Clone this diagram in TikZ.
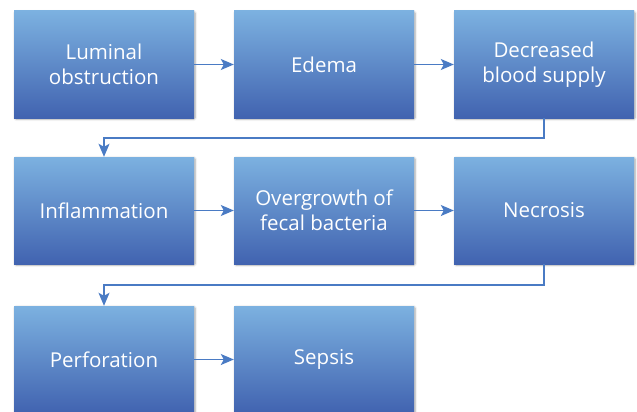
\documentclass[tikz,border=0pt]{standalone}
\usepackage{fontspec}
\setmainfont{Open Sans}
\usetikzlibrary{arrows.meta,shadows.blur,positioning}
\definecolor{boxtop}{HTML}{7CB1E0}
\definecolor{boxbot}{HTML}{4163B0}
\definecolor{linec}{HTML}{4A7BC4}
\tikzset{
  flowbox/.style={minimum width=180pt, minimum height=107pt, inner sep=0pt,
    top color=boxtop, bottom color=boxbot, draw=none,
    blur shadow={shadow xshift=1pt, shadow yshift=-1pt, shadow blur steps=6, shadow blur extra rounding=1pt, shadow opacity=35},
    text=white, align=center, font=\fontsize{20.5}{25.5}\selectfont},
  conn/.style={draw=linec, line width=1.3pt, -{Stealth[length=13pt,width=11pt,inset=3pt]}}
}
\begin{document}
\begin{tikzpicture}[x=1pt,y=-1pt]
\useasboundingbox (0,0) rectangle (637,412);
\node[flowbox] (a) at (104,64.5) {Luminal\\obstruction};
\node[flowbox] (b) at (324,64.5) {Edema};
\node[flowbox] (c) at (544,64.5) {Decreased\\blood supply};
\node[flowbox] (d) at (104,210.5) {Inflammation};
\node[flowbox] (e) at (324,210.5) {Overgrowth of\\fecal bacteria};
\node[flowbox] (f) at (544,210.5) {Necrosis};
\node[flowbox] (g) at (104,359.5) {Perforation};
\node[flowbox] (h) at (324,359.5) {Sepsis};
\coordinate (k1) at (544,138);
\coordinate (k2) at (104,138);
\coordinate (k3) at (544,285);
\coordinate (k4) at (104,285);
\draw[conn] (a) -- (b);
\draw[conn] (b) -- (c);
\draw[conn] (c.south) -- (k1) -- (k2) -- (d.north);
\draw[conn] (d) -- (e);
\draw[conn] (e) -- (f);
\draw[conn] (f.south) -- (k3) -- (k4) -- (g.north);
\draw[conn] (g) -- (h);
\end{tikzpicture}
\end{document}
